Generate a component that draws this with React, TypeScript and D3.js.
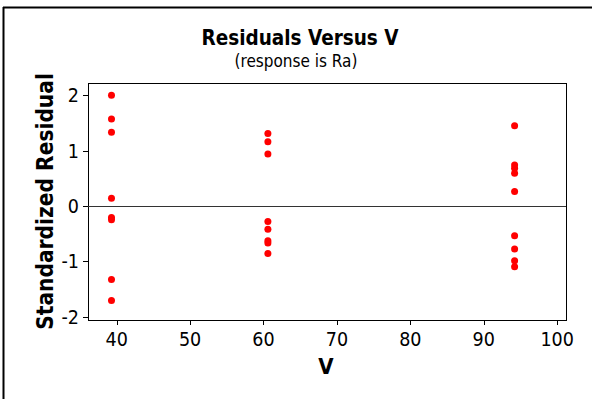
import React from "react";
import * as d3 from "d3";

const vLevels = [39.3, 60.6, 94.2];
const residualsLow = [2.0, 1.57, 1.33, 0.14, -0.21, -0.25, -1.33, -1.71];
const residualsMid = [1.31, 1.16, 0.94, -0.28, -0.42, -0.63, -0.67, -0.86];
const residualsHigh = [1.45, 0.74, 0.68, 0.59, 0.26, -0.54, -0.78, -0.99, -1.1];
const xTicks = [40, 50, 60, 70, 80, 90, 100];
const yTicks = [-2, -1, 0, 1, 2];

const W = 592;
const H = 399;
const plot = { left: 88, top: 83, right: 566, bottom: 320 };
const FONT = "'DejaVu Sans Condensed', 'DejaVu Sans', sans-serif";

export default function App() {
  const x = d3.scaleLinear().domain([36.1, 101.2]).range([plot.left, plot.right]);
  const y = d3.scaleLinear().domain([-2.06, 2.22]).range([plot.bottom, plot.top]);
  const groups = [residualsLow, residualsMid, residualsHigh];
  const points = groups.flatMap((g, i) => g.map((r) => ({ v: vLevels[i], r })));

  return (
    <svg
      width={W}
      height={H}
      style={{ position: "absolute", left: 0, top: 0, background: "#fff" }}
      fontFamily={FONT}
    >
      <rect x={0} y={0} width={W} height={H} fill="#fff" />
      {/* outer frame */}
      <line x1={3.5} y1={7} x2={3.5} y2={H} stroke="#000" strokeWidth={2} />
      <line x1={3} y1={7.5} x2={W} y2={7.5} stroke="#000" strokeWidth={2} />

      {/* titles */}
      <text x={300} y={45} textAnchor="middle" fontSize={20.5} fontWeight="bold" fill="#000">
        Residuals Versus V
      </text>
      <text x={296} y={67} textAnchor="middle" fontSize={17} fill="#000">
        (response is Ra)
      </text>

      {/* plot frame */}
      <rect
        x={plot.left + 0.5}
        y={plot.top + 0.5}
        width={plot.right - plot.left}
        height={plot.bottom - plot.top}
        fill="none"
        stroke="#000"
        strokeWidth={1}
      />

      {/* zero reference line */}
      <line
        x1={plot.left}
        x2={plot.right}
        y1={Math.round(y(0)) + 0.5}
        y2={Math.round(y(0)) + 0.5}
        stroke="#333"
        strokeWidth={1}
      />

      {/* x ticks */}
      {xTicks.map((t) => (
        <g key={"x" + t}>
          <line
            x1={Math.round(x(t)) + 0.5}
            x2={Math.round(x(t)) + 0.5}
            y1={plot.bottom}
            y2={plot.bottom + 5}
            stroke="#000"
          />
          <text x={x(t)} y={346} textAnchor="middle" fontSize={19.5} fill="#000">
            {t}
          </text>
        </g>
      ))}

      {/* y ticks */}
      {yTicks.map((t) => (
        <g key={"y" + t}>
          <line
            x1={plot.left - 5}
            x2={plot.left}
            y1={Math.round(y(t)) + 0.5}
            y2={Math.round(y(t)) + 0.5}
            stroke="#000"
          />
          <text x={79} y={y(t) + 7} textAnchor="end" fontSize={19.5} fill="#000">
            {t}
          </text>
        </g>
      ))}

      {/* axis labels */}
      <text x={326} y={374} textAnchor="middle" fontSize={22} fontWeight="bold" fill="#000">
        V
      </text>
      <text
        transform={`translate(53, ${(plot.top + plot.bottom) / 2}) rotate(-90)`}
        textAnchor="middle"
        fontSize={22.5}
        fontWeight="bold"
        fill="#000"
      >
        Standardized Residual
      </text>

      {/* points */}
      {points.map((p, i) => (
        <circle key={i} cx={x(p.v)} cy={y(p.r)} r={3.5} fill="#ff0000" />
      ))}
    </svg>
  );
}
